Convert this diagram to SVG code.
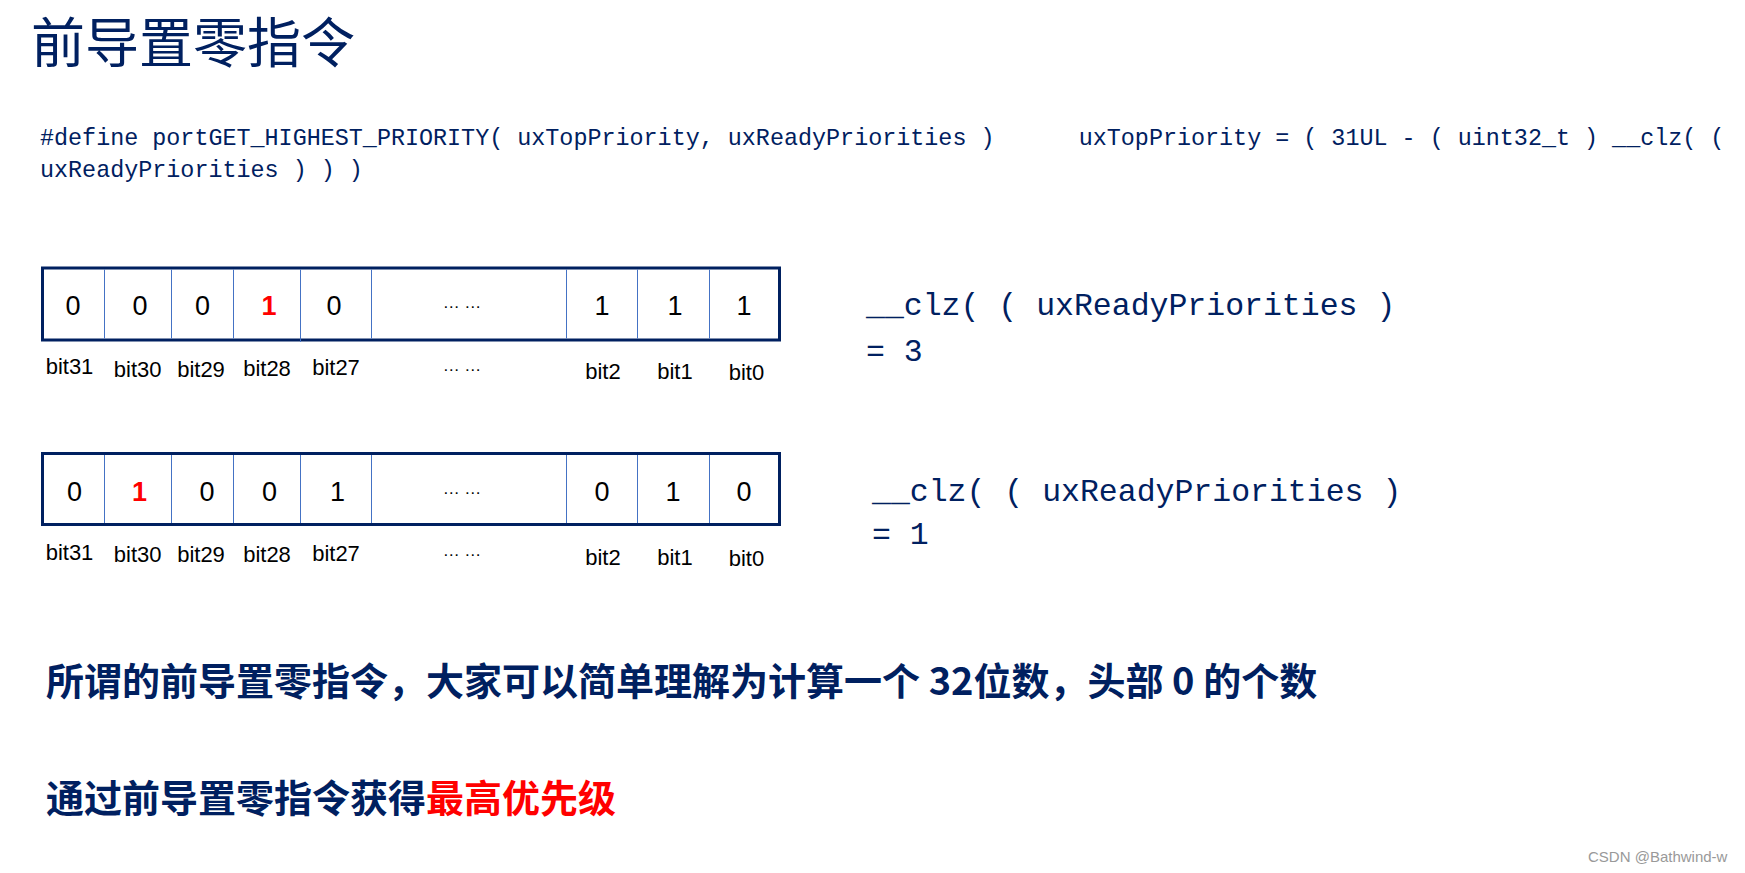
<svg xmlns="http://www.w3.org/2000/svg" width="1745" height="873" viewBox="0 0 1745 873">
<style>
.title{font-family:"Noto Sans CJK SC","Noto Sans",sans-serif;font-size:54px;fill:#002060}
.code{font-family:"Liberation Mono","DejaVu Sans Mono",monospace;font-size:23.4px;fill:#002060}
.clz{font-family:"Liberation Mono","DejaVu Sans Mono",monospace;font-size:31.5px;fill:#002060}
.cn{font-family:"Noto Sans CJK SC","Noto Sans",sans-serif;font-size:38px;font-weight:700;fill:#002060}
.red{fill:#ff0000}
.box{fill:#ffffff;stroke:#002060;stroke-width:3}
.div{stroke:#4472c4;stroke-width:1}
.dig{font-family:"Liberation Sans",Arial,sans-serif;font-size:27px;fill:#000000;text-anchor:middle}
.dig.hot{fill:#ff0000;font-weight:700}
.lbl{font-family:"Liberation Sans",Arial,sans-serif;font-size:22px;fill:#000000;text-anchor:middle}
.dots{font-family:"Liberation Sans",Arial,sans-serif;font-size:17px;fill:#000000;text-anchor:middle}
.wm{font-family:"Liberation Sans",Arial,sans-serif;font-size:15px;fill:#999999}
</style>
<rect width="1745" height="873" fill="#ffffff"/>

<g id="title"><text class="title" x="31" y="63">前导置零指令</text></g>

<g id="code">
<text class="code" x="40" y="145" xml:space="preserve">#define portGET_HIGHEST_PRIORITY( uxTopPriority, uxReadyPriorities )      uxTopPriority = ( 31UL - ( uint32_t ) __clz( (</text>
<text class="code" x="40" y="177" xml:space="preserve">uxReadyPriorities ) ) )</text>
</g>

<g id="register1">
<rect class="box" x="42.5" y="268" width="737" height="72"/>
<g>
<line class="div" x1="104.5" y1="269.5" x2="104.5" y2="338.5"/>
<line class="div" x1="171.5" y1="269.5" x2="171.5" y2="338.5"/>
<line class="div" x1="233.5" y1="269.5" x2="233.5" y2="338.5"/>
<line class="div" x1="300.5" y1="269.5" x2="300.5" y2="342"/>
<line class="div" x1="371.5" y1="269.5" x2="371.5" y2="338.5"/>
<line class="div" x1="566.5" y1="269.5" x2="566.5" y2="338.5"/>
<line class="div" x1="637.5" y1="269.5" x2="637.5" y2="338.5"/>
<line class="div" x1="709.5" y1="269.5" x2="709.5" y2="338.5"/>
</g>
<text class="dig" x="73" y="315">0</text>
<text class="dig" x="140" y="315">0</text>
<text class="dig" x="202.5" y="315">0</text>
<text class="dig hot" x="269" y="315">1</text>
<text class="dig" x="334" y="315">0</text>
<text class="dots" x="462" y="308">… …</text>
<text class="dig" x="602" y="315">1</text>
<text class="dig" x="675" y="315">1</text>
<text class="dig" x="744" y="315">1</text>
</g>
<g id="labels1">
<text class="lbl" x="69.5" y="374">bit31</text>
<text class="lbl" x="137.7" y="377">bit30</text>
<text class="lbl" x="201" y="377">bit29</text>
<text class="lbl" x="267" y="376">bit28</text>
<text class="lbl" x="336" y="375">bit27</text>
<text class="dots" x="462" y="371">… …</text>
<text class="lbl" x="603" y="379">bit2</text>
<text class="lbl" x="675" y="379">bit1</text>
<text class="lbl" x="746.5" y="380">bit0</text>
</g>
<g id="result1">
<text class="clz" x="866" y="315" xml:space="preserve">__clz( ( uxReadyPriorities )</text>
<text class="clz" x="866" y="361">= 3</text>
</g>

<g id="register2">
<rect class="box" x="42.5" y="453.5" width="737" height="71"/>
<g>
<line class="div" x1="104.5" y1="455" x2="104.5" y2="523"/>
<line class="div" x1="171.5" y1="455" x2="171.5" y2="523"/>
<line class="div" x1="233.5" y1="455" x2="233.5" y2="523"/>
<line class="div" x1="300.5" y1="455" x2="300.5" y2="523"/>
<line class="div" x1="371.5" y1="455" x2="371.5" y2="523"/>
<line class="div" x1="566.5" y1="455" x2="566.5" y2="523"/>
<line class="div" x1="637.5" y1="455" x2="637.5" y2="523"/>
<line class="div" x1="709.5" y1="455" x2="709.5" y2="523"/>
</g>
<text class="dig" x="74.5" y="501">0</text>
<text class="dig hot" x="139.5" y="501">1</text>
<text class="dig" x="207" y="501">0</text>
<text class="dig" x="269.5" y="501">0</text>
<text class="dig" x="337.5" y="501">1</text>
<text class="dots" x="462" y="494">… …</text>
<text class="dig" x="602" y="501">0</text>
<text class="dig" x="673" y="501">1</text>
<text class="dig" x="744" y="501">0</text>
</g>
<g id="labels2">
<text class="lbl" x="69.5" y="559.5">bit31</text>
<text class="lbl" x="137.7" y="562">bit30</text>
<text class="lbl" x="201" y="562">bit29</text>
<text class="lbl" x="267" y="561.5">bit28</text>
<text class="lbl" x="336" y="560.5">bit27</text>
<text class="dots" x="462" y="556">… …</text>
<text class="lbl" x="603" y="564.5">bit2</text>
<text class="lbl" x="675" y="564.5">bit1</text>
<text class="lbl" x="746.5" y="565.5">bit0</text>
</g>
<g id="result2">
<text class="clz" x="872" y="501" xml:space="preserve">__clz( ( uxReadyPriorities )</text>
<text class="clz" x="872" y="544">= 1</text>
</g>

<g id="explain">
<text class="cn" x="46" y="695" xml:space="preserve">所谓的前导置零指令，大家可以简单理解为计算一个 32位数，头部 0 的个数</text>
<text class="cn" x="46" y="812">通过前导置零指令获得<tspan class="red">最高优先级</tspan></text>
</g>

<g id="watermark"><text class="wm" x="1588" y="862">CSDN @Bathwind-w</text></g>
</svg>
